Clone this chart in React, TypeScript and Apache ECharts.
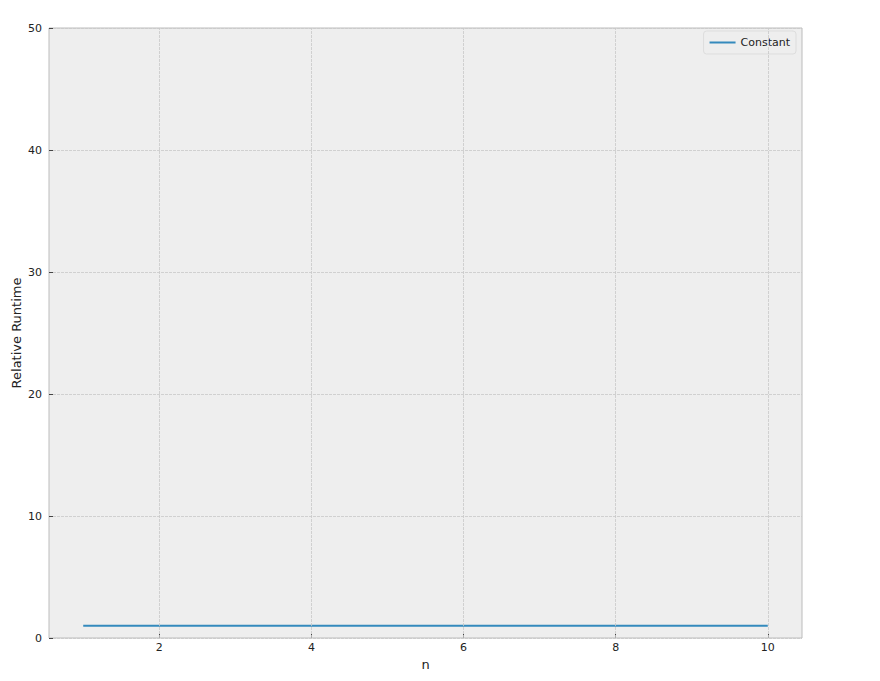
import React, { useEffect, useRef } from 'react'
import * as echarts from 'echarts'

const nValues = [1, 2, 3, 4, 5, 6, 7, 8, 9, 10]
const constantRuntime = [1, 1, 1, 1, 1, 1, 1, 1, 1, 1]
const xTicks = [2, 4, 6, 8, 10]

export default function App() {
  const chartRef = useRef<HTMLDivElement>(null)

  useEffect(() => {
    if (!chartRef.current) {
      return
    }
    const chart = echarts.init(chartRef.current, null, { renderer: 'svg' })

    const labelStyle = {
      color: '#222222',
      fontSize: 11,
      fontFamily: 'DejaVu Sans'
    }
    const gridLine = { color: '#c8c8c8', type: [3, 1], width: 0.8 }

    const option = {
      animation: false,
      backgroundColor: '#ffffff',
      grid: {
        left: 49,
        right: 78,
        top: 28,
        bottom: 43,
        outerBoundsMode: 'none',
        containLabel: false,
        show: true,
        backgroundColor: '#eeeeee',
        borderColor: '#bcbcbc',
        borderWidth: 1
      },
      legend: {
        data: ['Constant'],
        right: 84,
        top: 31,
        icon: 'rect',
        itemWidth: 26,
        itemHeight: 2,
        itemGap: 8,
        padding: [6, 6, 6, 6],
        backgroundColor: '#eeeeee',
        borderColor: '#dddddd',
        borderWidth: 1,
        borderRadius: 3,
        textStyle: { color: '#222222', fontSize: 11, fontFamily: 'DejaVu Sans' }
      },
      xAxis: {
        type: 'value',
        min: 0.55,
        max: 10.45,
        name: 'n',
        nameLocation: 'middle',
        nameGap: 20,
        nameMoveOverlap: false,
        nameTextStyle: { color: '#222222', fontSize: 13, fontFamily: 'DejaVu Sans' },
        axisLine: { show: false },
        axisTick: {
          show: true,
          inside: true,
          length: 4,
          customValues: xTicks,
          lineStyle: { color: '#444444' }
        },
        axisLabel: { ...labelStyle, margin: 4, customValues: xTicks },
        splitLine: { show: false }
      },
      yAxis: {
        type: 'value',
        min: 0,
        max: 50,
        interval: 10,
        name: 'Relative Runtime',
        nameLocation: 'middle',
        nameGap: 26,
        nameMoveOverlap: false,
        nameTextStyle: { color: '#222222', fontSize: 13, fontFamily: 'DejaVu Sans' },
        axisLine: { show: false },
        axisTick: { show: true, inside: true, length: 4, lineStyle: { color: '#444444' } },
        axisLabel: { ...labelStyle, margin: 7 },
        splitLine: { show: true, lineStyle: gridLine }
      },
      series: [
        {
          name: 'Constant',
          type: 'line',
          data: nValues.map((n, i) => [n, constantRuntime[i]]),
          showSymbol: false,
          lineStyle: { color: '#348ABD', width: 2 },
          itemStyle: { color: '#348ABD' },
          markLine: {
            silent: true,
            symbol: 'none',
            label: { show: false },
            lineStyle: gridLine,
            data: xTicks.map(t => ({ xAxis: t }))
          },
          z: 3
        }
      ]
    }

    chart.setOption(option)

    return () => {
      chart.dispose()
    }
  }, [])

  return (
    <div style={{ position: 'fixed', left: 0, top: 0, width: 880, height: 681, background: '#ffffff' }}>
      <div ref={chartRef} style={{ width: 880, height: 681 }} />
    </div>
  )
}
